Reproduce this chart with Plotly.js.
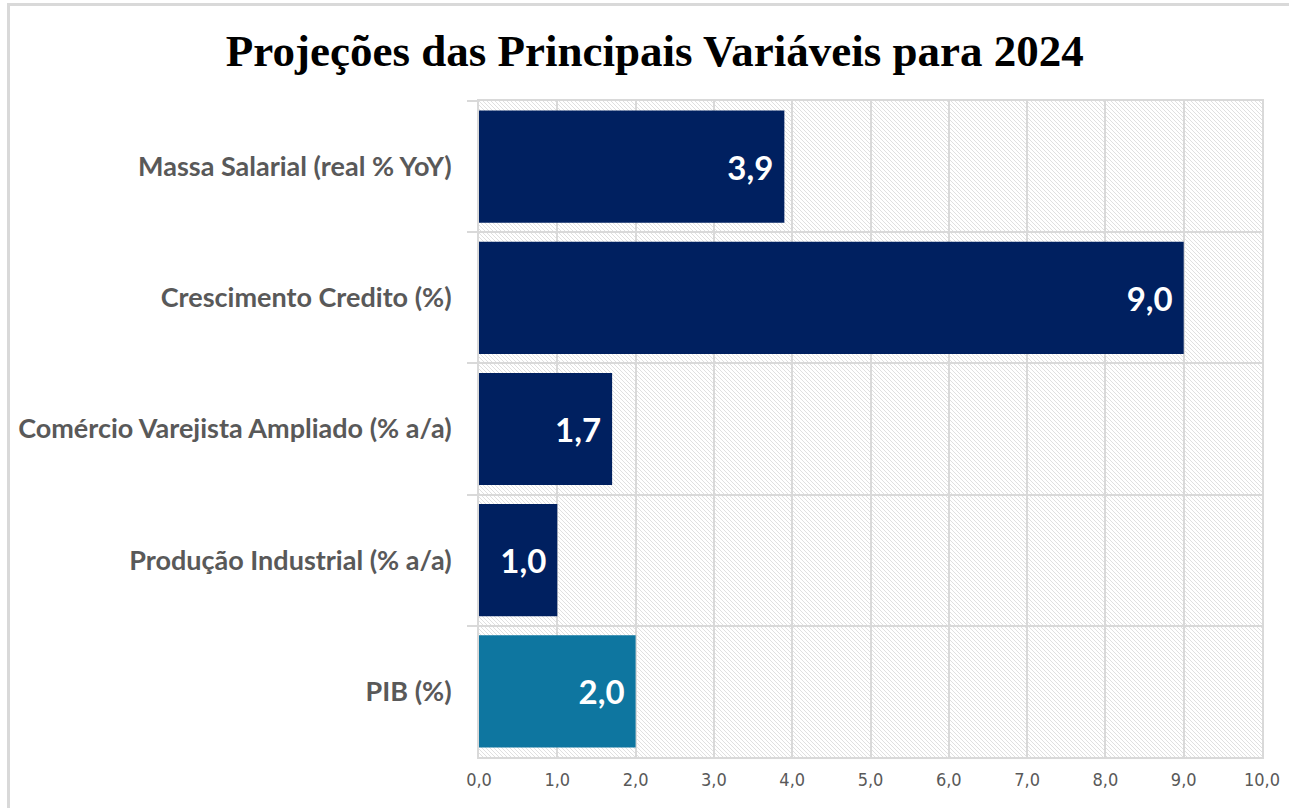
<!DOCTYPE html>
<html>
<head>
<meta charset="utf-8">
<script src="https://cdn.plot.ly/plotly-3.0.1.min.js"></script>
<style>
  html, body { margin: 0; padding: 0; background: #fff; }
  #wrap { position: relative; width: 1289px; height: 808px; overflow: hidden; }
  #chart { position: absolute; left: 0; top: 0; width: 1289px; height: 808px; }
  #bl { position: absolute; left: 7px; top: 3px; width: 3px; height: 805px; background: #d9d9d9; }
  #bt { position: absolute; left: 7px; top: 3px; width: 1282px; height: 3px; background: #d9d9d9; }
</style>
</head>
<body>
<div id="wrap">
  <div id="chart"></div>
  <div id="bl"></div>
  <div id="bt"></div>
</div>
<script>
const categories = [
  "Massa Salarial (real % YoY)",
  "Crescimento Credito (%)",
  "Comércio Varejista Ampliado (% a/a)",
  "Produção Industrial (% a/a)",
  "PIB (%)"
];
const values = [3.9, 9.0, 1.7, 1.0, 2.0];
const barColors = ["#002060", "#002060", "#002060", "#002060", "#0E76A0"];
const xTicks = [0, 1, 2, 3, 4, 5, 6, 7, 8, 9, 10];
const chartTitle = "Projeções das Principais Variáveis para 2024";

const svg = '<svg xmlns="http://www.w3.org/2000/svg" width="783" height="656">' +
  '<defs><pattern id="p" width="4" height="4" patternUnits="userSpaceOnUse">' +
  '<path d="M0,0 L4,4 M-1,3 L1,5 M3,-1 L5,1" stroke="#dcdcdc" stroke-width="0.9"/>' +
  '</pattern></defs><rect width="783" height="656" fill="#ffffff"/>' +
  '<rect width="783" height="656" fill="url(#p)"/></svg>';
const hatch = "data:image/svg+xml;charset=utf-8," + encodeURIComponent(svg);

const trace = {
  type: "bar",
  orientation: "h",
  y: categories,
  x: values,
  marker: { color: barColors, line: { width: 0 } },
  text: values.map(v => v.toFixed(1).replace(".", ",") + "\u00a0"),
  textposition: "inside",
  insidetextanchor: "end",
  constraintext: "none",
  textfont: { family: "Lato, 'Open Sans', sans-serif", size: 33, color: "#ffffff", weight: "bold" },
  hoverinfo: "skip"
};

const layout = {
  width: 1289,
  height: 808,
  margin: { l: 479, r: 27, t: 101, b: 51 },
  paper_bgcolor: "rgba(0,0,0,0)",
  plot_bgcolor: "#ffffff",
  separators: ",.",
  bargap: 0.145,
  showlegend: false,
  title: {
    text: "<b>" + chartTitle + "</b>",
    font: { family: "'Liberation Serif', 'DejaVu Serif', serif", size: 45, color: "#000000" },
    x: 0.508, xanchor: "center",
    y: 0.938, yanchor: "middle"
  },
  xaxis: {
    range: [0, 10],
    tickvals: xTicks,
    tickformat: ".1f",
    showgrid: true,
    gridcolor: "#d9d9d9",
    gridwidth: 2,
    zeroline: false,
    showline: true,
    linecolor: "#d9d9d9",
    linewidth: 2,
    mirror: true,
    ticks: "",
    ticklabelstandoff: 5,
    tickfont: { family: "'Liberation Sans Narrow', 'DejaVu Sans Condensed', sans-serif", size: 18, color: "#595959" },
    fixedrange: true
  },
  yaxis: {
    type: "category",
    autorange: "reversed",
    tickson: "boundaries",
    ticks: "outside",
    ticklen: 10,
    tickcolor: "#d9d9d9",
    tickwidth: 2,
    showgrid: true,
    gridcolor: "#d9d9d9",
    gridwidth: 2,
    showline: true,
    linecolor: "#d9d9d9",
    linewidth: 2,
    mirror: true,
    ticklabelstandoff: 20,
    tickfont: { family: "Lato, 'Open Sans', sans-serif", size: 27, color: "#595959", weight: "bold" },
    fixedrange: true
  },
  images: [{
    source: hatch,
    xref: "paper", yref: "paper",
    x: 0, y: 1, sizex: 1, sizey: 1,
    xanchor: "left", yanchor: "top",
    sizing: "stretch",
    layer: "below"
  }]
};

Plotly.newPlot("chart", [trace], layout, { displayModeBar: false, staticPlot: true });
</script>
</body>
</html>
